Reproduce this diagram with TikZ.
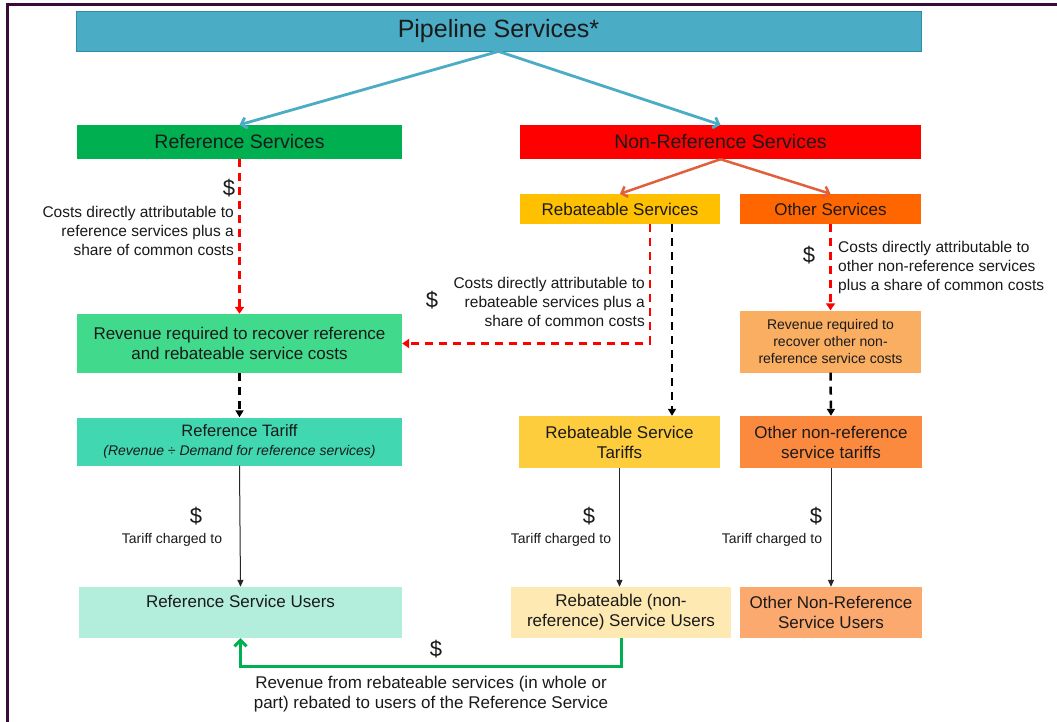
\documentclass[tikz,border=0pt]{standalone}
\usepackage{fontspec}
\setmainfont{Liberation Sans}
\usetikzlibrary{arrows.meta,calc}
\definecolor{pipec}{HTML}{4BACC6}
\definecolor{pipeb}{HTML}{2F8CA8}
\definecolor{refsc}{HTML}{00B050}
\definecolor{nonrc}{HTML}{FF0000}
\definecolor{rebsc}{HTML}{FFC000}
\definecolor{othsc}{HTML}{FF6600}
\definecolor{revlc}{HTML}{41D98B}
\definecolor{revrc}{HTML}{F9AE62}
\definecolor{reftc}{HTML}{40D7B1}
\definecolor{rebtc}{HTML}{FDCD3E}
\definecolor{othtc}{HTML}{FC8A3E}
\definecolor{refuc}{HTML}{B3EEDD}
\definecolor{rebuc}{HTML}{FDE9B1}
\definecolor{othuc}{HTML}{FBA96E}
\definecolor{orarr}{HTML}{E0603C}
\definecolor{framec}{HTML}{3A0A3A}
\definecolor{txtc}{HTML}{1A1A1A}
\newcommand{\fs}[2]{\fontsize{#1}{#2}\selectfont}
\tikzset{
  box/.style={rectangle, inner sep=0pt, align=center, text=txtc},
  bluearr/.style={draw=pipec, line width=2.8pt, -{Straight Barb[width=11pt,length=5pt]}},
  orarrow/.style={draw=orarr, line width=2.5pt, -{Straight Barb[width=11pt,length=5pt]}},
  reddash/.style={draw=nonrc, line width=2.5pt, dash pattern=on 8pt off 6pt, -{Triangle[width=9pt,length=7pt]}},
  blkdash/.style={draw=black, line width=2.5pt, dash pattern=on 8pt off 6pt, -{Triangle[width=8pt,length=7pt]}},
  thinarr/.style={draw=black!85, line width=1pt, -{Triangle[width=6pt,length=7pt]}},
  greenarr/.style={draw=refsc, line width=3pt, -{Straight Barb[width=12pt,length=6pt]}},
  dollar/.style={inner sep=0pt, text=txtc, font=\fs{22}{26}},
  lbl/.style={inner sep=0pt, text=txtc, font=\fs{15.5}{19}},
}
\begin{document}
\begin{tikzpicture}[x=1pt,y=-1pt]
\useasboundingbox (0,0) rectangle (1057,722);
\clip (0,0) rectangle (1057,722);
\fill[white] (0,0) rectangle (1057,722);
\draw[framec, line width=3pt] (7,740) -- (7,5) -- (1070,5);

% boxes
\node[box, fill=pipec, draw=pipeb, line width=0.8pt, minimum width=845pt, minimum height=40pt, font=\fs{25}{30}] (pipe) at (498.5,31) {\raisebox{-2pt}{Pipeline Services*}};
\node[box, fill=refsc, minimum width=325pt, minimum height=34pt, font=\fs{19.5}{23}] (refs) at (239.5,142) {Reference Services};
\node[box, fill=nonrc, minimum width=401pt, minimum height=34pt, font=\fs{19.5}{23}] (nonr) at (720.5,142) {Non-Reference Services};
\node[box, fill=rebsc, minimum width=200pt, minimum height=30pt, font=\fs{17}{20}] (rebs) at (620,209) {Rebateable Services};
\node[box, fill=othsc, minimum width=181pt, minimum height=30pt, font=\fs{17}{20}] (oths) at (830.5,209) {Other Services};
\node[box, fill=revlc, minimum width=325pt, minimum height=59pt, font=\fs{17}{20}] (revl) at (239.5,343.5) {Revenue required to recover reference\\and rebateable service costs};
\node[box, fill=revrc, minimum width=181pt, minimum height=62pt, font=\fs{14}{17}] (revr) at (830.5,341.5) {Revenue required to\\recover other non-\\reference service costs};
\node[box, fill=reftc, minimum width=325pt, minimum height=48pt, font=\fs{16.5}{19}] (reft) at (239.5,441.5) {Reference Tariff\\{\fs{14}{16}\itshape (Revenue ÷ Demand for reference services)}};
\node[box, fill=rebtc, minimum width=201pt, minimum height=52pt, font=\fs{17}{20}] (rebt) at (619.5,442) {Rebateable Service\\Tariffs};
\node[box, fill=othtc, minimum width=182pt, minimum height=52pt, font=\fs{17}{20}] (otht) at (831,442) {Other non-reference\\service tariffs};
\node[box, fill=refuc, minimum width=323pt, minimum height=51pt, font=\fs{17}{20}] (refu) at (240.5,612.5) {\raisebox{-3pt}{Reference Service Users}\\\strut};
\node[box, fill=rebuc, minimum width=220pt, minimum height=51pt, font=\fs{17}{20}] (rebu) at (621,612.5) {\raisebox{-2pt}{Rebateable (non-}\\\raisebox{-2pt}{reference) Service Users}};
\node[box, fill=othuc, minimum width=182pt, minimum height=51pt, font=\fs{17}{20}] (othu) at (831,612.5) {Other Non-Reference\\Service Users};

% connectors
\draw[bluearr] (pipe.south) -- (refs.north);
\draw[bluearr] (pipe.south) -- (nonr.north);
\draw[orarrow] (nonr.south) -- (rebs.north);
\draw[orarrow] (nonr.south) -- (oths.north);
\draw[reddash] (refs.south) -- (revl.north);
\coordinate (rr) at ($(rebs.south)+(30,0)$);
\draw[reddash] (rr) |- (revl.east);
\coordinate (rb) at ($(rebs.south)+(52,0)$);
\draw[blkdash] (rb) -- (rb |- rebt.north);
\draw[reddash] (oths.south) -- (revr.north);
\draw[blkdash] (revl.south) -- (revl.south |- reft.north);
\draw[blkdash] (revr.south) -- (otht.north);
\draw[thinarr] (reft.south) -- (refu.north);
\draw[thinarr] (rebt.south) -- (rebt.south |- rebu.north);
\draw[thinarr] (otht.south) -- (othu.north);
\draw[greenarr] (rebu.south) -- ++(0,28) -| (refu.south);

% labels
\node[dollar] (d1) at (229,188) {\$};
\node[lbl, align=right, anchor=east] (c1) at (234,231) {Costs directly attributable to\\reference services plus a\\share of common costs};
\node[dollar] (d2) at (432,300) {\$};
\node[lbl, align=right, anchor=east] (c2) at (645,302) {Costs directly attributable to\\rebateable services plus a\\share of common costs};
\node[dollar] (d3) at (809,255) {\$};
\node[lbl, align=left, anchor=west] (c3) at (838,267) {Costs directly attributable to\\other non-reference services\\plus a share of common costs};
\node[dollar] (d4) at (196,516) {\$};
\node[inner sep=0pt, text=txtc, font=\fs{14}{17}] (t1) at (172,540) {Tariff charged to};
\node[dollar] (d5) at (589,516) {\$};
\node[inner sep=0pt, text=txtc, font=\fs{14}{17}] (t2) at (561,540) {Tariff charged to};
\node[dollar] (d6) at (816,516) {\$};
\node[inner sep=0pt, text=txtc, font=\fs{14}{17}] (t3) at (772,540) {Tariff charged to};
\node[dollar] (d7) at (436,649) {\$};
\node[inner sep=0pt, text=txtc, align=center, font=\fs{17}{19.5}] (bt) at (431,694) {Revenue from rebateable services (in whole or\\part) rebated to users of the Reference Service};
\end{tikzpicture}
\end{document}
